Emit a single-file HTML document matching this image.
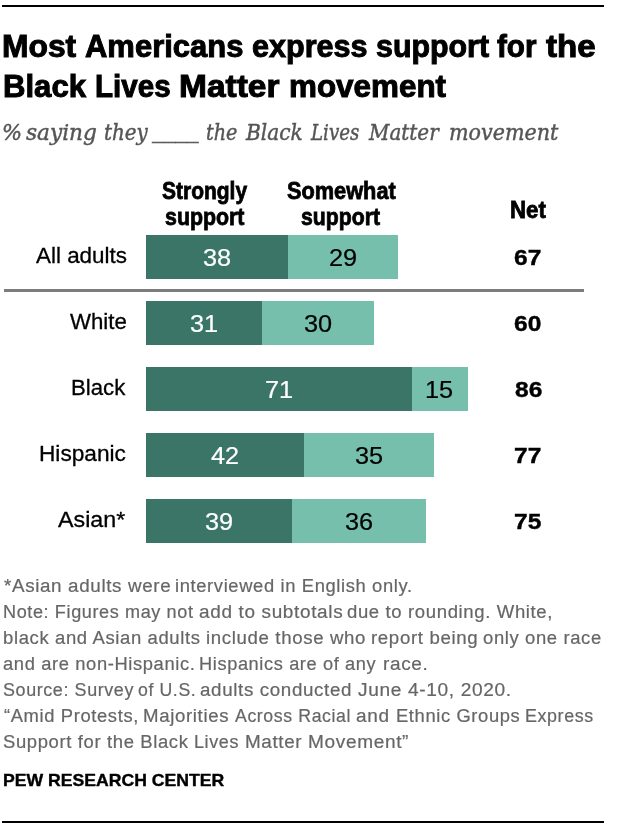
<!DOCTYPE html>
<html><head><meta charset="utf-8">
<style>
html,body{margin:0;padding:0;background:#fff;}
body{width:618px;height:830px;position:relative;overflow:hidden;font-family:"Liberation Sans",sans-serif;}
.x{position:absolute;white-space:nowrap;line-height:1;transform-origin:0 0;}
.r{position:absolute;}
</style></head><body>
<div class="r" style="left:2px;top:5px;width:602px;height:2px;background:#000"></div>
<div class="r" style="left:3.6px;top:288.8px;width:580.4px;height:2.8px;background:#7c7c7c"></div>
<div class="r" style="left:146px;top:235px;width:141.8px;height:43.7px;background:#3a7568"></div><div class="r" style="left:287.8px;top:235px;width:110.1px;height:43.7px;background:#75bfac"></div>
<div class="r" style="left:146px;top:301.2px;width:115.9px;height:43.7px;background:#3a7568"></div><div class="r" style="left:261.9px;top:301.2px;width:112.2px;height:43.7px;background:#75bfac"></div>
<div class="r" style="left:146px;top:367px;width:265.6px;height:43.7px;background:#3a7568"></div><div class="r" style="left:411.6px;top:367px;width:56.6px;height:43.7px;background:#75bfac"></div>
<div class="r" style="left:146px;top:433px;width:158.0px;height:43.7px;background:#3a7568"></div><div class="r" style="left:304.0px;top:433px;width:130.0px;height:43.7px;background:#75bfac"></div>
<div class="r" style="left:146px;top:499px;width:145.8px;height:43.7px;background:#3a7568"></div><div class="r" style="left:291.8px;top:499px;width:134.2px;height:43.7px;background:#75bfac"></div>
<div class="x" id="ta0" style="left:2.01px;top:29.50px;font-size:32px;color:#000;font-weight:bold;-webkit-text-stroke:1px #000;transform:scaleX(0.9932);">Most</div>
<div class="x" id="ta1" style="left:84.80px;top:29.50px;font-size:32px;color:#000;font-weight:bold;-webkit-text-stroke:1px #000;transform:scaleX(0.9681);">Americans</div>
<div class="x" id="ta2" style="left:251.84px;top:29.50px;font-size:32px;color:#000;font-weight:bold;-webkit-text-stroke:1px #000;transform:scaleX(0.9555);">express</div>
<div class="x" id="ta3" style="left:375.65px;top:29.50px;font-size:32px;color:#000;font-weight:bold;-webkit-text-stroke:1px #000;transform:scaleX(0.9492);">support</div>
<div class="x" id="ta4" style="left:496.90px;top:29.50px;font-size:32px;color:#000;font-weight:bold;-webkit-text-stroke:1px #000;transform:scaleX(0.9256);">for</div>
<div class="x" id="ta5" style="left:545.70px;top:29.50px;font-size:32px;color:#000;font-weight:bold;-webkit-text-stroke:1px #000;transform:scaleX(1.0362);">the</div>
<div class="x" id="tb0" style="left:3.25px;top:69.50px;font-size:32px;color:#000;font-weight:bold;-webkit-text-stroke:1px #000;transform:scaleX(0.9726);">Black</div>
<div class="x" id="tb1" style="left:95.25px;top:69.50px;font-size:32px;color:#000;font-weight:bold;-webkit-text-stroke:1px #000;transform:scaleX(0.9241);">Lives</div>
<div class="x" id="tb2" style="left:178.81px;top:69.50px;font-size:32px;color:#000;font-weight:bold;-webkit-text-stroke:1px #000;transform:scaleX(1.0468);">Matter</div>
<div class="x" id="tb3" style="left:289.04px;top:69.50px;font-size:32px;color:#000;font-weight:bold;-webkit-text-stroke:1px #000;transform:scaleX(0.9810);">movement</div>
<div class="x" id="s0" style="left:1.67px;top:120.80px;font-size:23px;color:#555;font-family:'DejaVu Serif','Liberation Serif',serif;font-style:italic;-webkit-text-stroke:0.45px #555;transform:scaleX(0.9167);">%</div>
<div class="x" id="s1" style="left:26.20px;top:120.80px;font-size:23px;color:#555;font-family:'DejaVu Serif','Liberation Serif',serif;font-style:italic;-webkit-text-stroke:0.45px #555;transform:scaleX(0.9400);">saying</div>
<div class="x" id="s2" style="left:104.03px;top:120.80px;font-size:23px;color:#555;font-family:'DejaVu Serif','Liberation Serif',serif;font-style:italic;-webkit-text-stroke:0.45px #555;transform:scaleX(0.8660);">they</div>
<div class="x" id="s3" style="left:152.40px;top:119.40px;font-size:23px;color:#555;font-family:'DejaVu Serif','Liberation Serif',serif;font-style:italic;-webkit-text-stroke:0.45px #555;transform:scaleX(1.0130);">____</div>
<div class="x" id="s4" style="left:205.96px;top:120.80px;font-size:23px;color:#555;font-family:'DejaVu Serif','Liberation Serif',serif;font-style:italic;-webkit-text-stroke:0.45px #555;transform:scaleX(0.8361);">the</div>
<div class="x" id="s5" style="left:245.88px;top:120.80px;font-size:23px;color:#555;font-family:'DejaVu Serif','Liberation Serif',serif;font-style:italic;-webkit-text-stroke:0.45px #555;transform:scaleX(0.8769);">Black</div>
<div class="x" id="s6" style="left:311.19px;top:120.80px;font-size:23px;color:#555;font-family:'DejaVu Serif','Liberation Serif',serif;font-style:italic;-webkit-text-stroke:0.45px #555;transform:scaleX(0.7919);">Lives</div>
<div class="x" id="s7" style="left:368.67px;top:120.80px;font-size:23px;color:#555;font-family:'DejaVu Serif','Liberation Serif',serif;font-style:italic;-webkit-text-stroke:0.45px #555;transform:scaleX(0.8675);">Matter</div>
<div class="x" id="s8" style="left:449.20px;top:120.80px;font-size:23px;color:#555;font-family:'DejaVu Serif','Liberation Serif',serif;font-style:italic;-webkit-text-stroke:0.45px #555;transform:scaleX(0.8983);">movement</div>
<div class="x" id="h1a" style="left:162.30px;top:178.80px;font-size:24px;color:#000;font-weight:bold;-webkit-text-stroke:0.8px #000;transform:scaleX(0.8742);">Strongly</div>
<div class="x" id="h1b" style="left:165.01px;top:204.70px;font-size:24px;color:#000;font-weight:bold;-webkit-text-stroke:0.8px #000;transform:scaleX(0.8898);">support</div>
<div class="x" id="h2a" style="left:286.60px;top:178.80px;font-size:24px;color:#000;font-weight:bold;-webkit-text-stroke:0.8px #000;transform:scaleX(0.9058);">Somewhat</div>
<div class="x" id="h2b" style="left:301.41px;top:204.70px;font-size:24px;color:#000;font-weight:bold;-webkit-text-stroke:0.8px #000;transform:scaleX(0.8852);">support</div>
<div class="x" id="h3" style="left:509.77px;top:197.80px;font-size:24px;color:#000;font-weight:bold;-webkit-text-stroke:0.8px #000;transform:scaleX(0.9263);">Net</div>
<div class="x" id="l1" style="left:35.70px;top:245.20px;font-size:22px;color:#000;-webkit-text-stroke:0.3px #000;transform:scaleX(1.0191);">All adults</div>
<div class="x" id="v1a" style="left:202.60px;top:246.80px;font-size:23px;color:#fff;-webkit-text-stroke:0.2px #fff;transform:scaleX(1.1000);">38</div>
<div class="x" id="v1b" style="left:328.55px;top:246.80px;font-size:23px;color:#000;-webkit-text-stroke:0.2px #000;transform:scaleX(1.1000);">29</div>
<div class="x" id="n1" style="left:514.15px;top:247.40px;font-size:22.3px;color:#000;font-weight:bold;-webkit-text-stroke:0.4px #000;transform:scaleX(1.1000);">67</div>
<div class="x" id="l2" style="left:70.00px;top:311.20px;font-size:22px;color:#000;-webkit-text-stroke:0.3px #000;transform:scaleX(1.0109);">White</div>
<div class="x" id="v2a" style="left:189.65px;top:312.80px;font-size:23px;color:#fff;-webkit-text-stroke:0.2px #fff;transform:scaleX(1.1000);">31</div>
<div class="x" id="v2b" style="left:303.70px;top:312.80px;font-size:23px;color:#000;-webkit-text-stroke:0.2px #000;transform:scaleX(1.1000);">30</div>
<div class="x" id="n2" style="left:514.15px;top:313.40px;font-size:22.3px;color:#000;font-weight:bold;-webkit-text-stroke:0.4px #000;transform:scaleX(1.1000);">60</div>
<div class="x" id="l3" style="left:70.58px;top:377.20px;font-size:22px;color:#000;-webkit-text-stroke:0.3px #000;transform:scaleX(1.0077);">Black</div>
<div class="x" id="v3a" style="left:264.50px;top:378.80px;font-size:23px;color:#fff;-webkit-text-stroke:0.2px #fff;transform:scaleX(1.1000);">71</div>
<div class="x" id="v3b" style="left:425.05px;top:378.80px;font-size:23px;color:#000;-webkit-text-stroke:0.2px #000;transform:scaleX(1.1000);">15</div>
<div class="x" id="n3" style="left:514.70px;top:379.40px;font-size:22.3px;color:#000;font-weight:bold;-webkit-text-stroke:0.4px #000;transform:scaleX(1.1000);">86</div>
<div class="x" id="l4" style="left:39.44px;top:443.20px;font-size:22px;color:#000;-webkit-text-stroke:0.3px #000;transform:scaleX(1.0305);">Hispanic</div>
<div class="x" id="v4a" style="left:211.25px;top:444.80px;font-size:23px;color:#fff;-webkit-text-stroke:0.2px #fff;transform:scaleX(1.1000);">42</div>
<div class="x" id="v4b" style="left:354.70px;top:444.80px;font-size:23px;color:#000;-webkit-text-stroke:0.2px #000;transform:scaleX(1.1000);">35</div>
<div class="x" id="n4" style="left:514.15px;top:445.40px;font-size:22.3px;color:#000;font-weight:bold;-webkit-text-stroke:0.4px #000;transform:scaleX(1.1000);">77</div>
<div class="x" id="l5" style="left:58.40px;top:509.20px;font-size:22px;color:#000;-webkit-text-stroke:0.3px #000;transform:scaleX(1.0571);">Asian*</div>
<div class="x" id="v5a" style="left:204.60px;top:510.80px;font-size:23px;color:#fff;-webkit-text-stroke:0.2px #fff;transform:scaleX(1.1000);">39</div>
<div class="x" id="v5b" style="left:344.60px;top:510.80px;font-size:23px;color:#000;-webkit-text-stroke:0.2px #000;transform:scaleX(1.1000);">36</div>
<div class="x" id="n5" style="left:513.60px;top:511.40px;font-size:22.3px;color:#000;font-weight:bold;-webkit-text-stroke:0.4px #000;transform:scaleX(1.1000);">75</div>
<div class="x" id="f1_0" style="left:4.00px;top:577.80px;font-size:17.6px;color:#666;letter-spacing:0.6px;-webkit-text-stroke:0.2px #666;transform:scaleX(1.0690);">*Asian adults were</div>
<div class="x" id="f1_1" style="left:175.16px;top:577.80px;font-size:17.6px;color:#666;letter-spacing:0.6px;-webkit-text-stroke:0.2px #666;transform:scaleX(1.0436);">interviewed in English only.</div>
<div class="x" id="f2_0" style="left:2.57px;top:603.90px;font-size:17.6px;color:#666;letter-spacing:0.6px;-webkit-text-stroke:0.2px #666;transform:scaleX(1.0261);">Note: Figures may not</div>
<div class="x" id="f2_1" style="left:198.82px;top:603.90px;font-size:17.6px;color:#666;letter-spacing:0.6px;-webkit-text-stroke:0.2px #666;transform:scaleX(1.0780);">add to subtotals</div>
<div class="x" id="f2_2" style="left:347.25px;top:603.90px;font-size:17.6px;color:#666;letter-spacing:0.6px;-webkit-text-stroke:0.2px #666;transform:scaleX(1.0528);">due to rounding. White,</div>
<div class="x" id="f3_0" style="left:2.55px;top:629.90px;font-size:17.6px;color:#666;letter-spacing:0.6px;-webkit-text-stroke:0.2px #666;transform:scaleX(1.0495);">black and Asian adults</div>
<div class="x" id="f3_1" style="left:205.84px;top:629.90px;font-size:17.6px;color:#666;letter-spacing:0.6px;-webkit-text-stroke:0.2px #666;transform:scaleX(1.0597);">include those who</div>
<div class="x" id="f3_2" style="left:370.64px;top:629.90px;font-size:17.6px;color:#666;letter-spacing:0.6px;-webkit-text-stroke:0.2px #666;transform:scaleX(1.0606);">report being</div>
<div class="x" id="f3_3" style="left:482.95px;top:629.90px;font-size:17.6px;color:#666;letter-spacing:0.6px;-webkit-text-stroke:0.2px #666;transform:scaleX(1.0477);">only one race</div>
<div class="x" id="f4_0" style="left:2.56px;top:656.00px;font-size:17.6px;color:#666;letter-spacing:0.6px;-webkit-text-stroke:0.2px #666;transform:scaleX(1.0418);">and are non-Hispanic.</div>
<div class="x" id="f4_1" style="left:199.47px;top:656.00px;font-size:17.6px;color:#666;letter-spacing:0.6px;-webkit-text-stroke:0.2px #666;transform:scaleX(1.0341);">Hispanics are of any</div>
<div class="x" id="f4_2" style="left:382.82px;top:656.00px;font-size:17.6px;color:#666;letter-spacing:0.6px;-webkit-text-stroke:0.2px #666;transform:scaleX(1.0795);">race.</div>
<div class="x" id="f5_0" style="left:2.58px;top:682.00px;font-size:17.6px;color:#666;letter-spacing:0.6px;-webkit-text-stroke:0.2px #666;transform:scaleX(1.0181);">Source: Survey</div>
<div class="x" id="f5_1" style="left:138.09px;top:682.00px;font-size:17.6px;color:#666;letter-spacing:0.6px;-webkit-text-stroke:0.2px #666;transform:scaleX(1.0055);">of U.S.</div>
<div class="x" id="f5_2" style="left:200.33px;top:682.00px;font-size:17.6px;color:#666;letter-spacing:0.6px;-webkit-text-stroke:0.2px #666;transform:scaleX(1.0664);">adults conducted</div>
<div class="x" id="f5_3" style="left:358.00px;top:682.00px;font-size:17.6px;color:#666;letter-spacing:0.6px;-webkit-text-stroke:0.2px #666;transform:scaleX(1.0857);">June 4-10, 2020.</div>
<div class="x" id="f6_0" style="left:3.60px;top:708.10px;font-size:17.6px;color:#666;letter-spacing:0.6px;-webkit-text-stroke:0.2px #666;transform:scaleX(1.0441);">“Amid Protests,</div>
<div class="x" id="f6_1" style="left:143.24px;top:708.10px;font-size:17.6px;color:#666;letter-spacing:0.6px;-webkit-text-stroke:0.2px #666;transform:scaleX(1.0595);">Majorities</div>
<div class="x" id="f6_2" style="left:235.20px;top:708.10px;font-size:17.6px;color:#666;letter-spacing:0.6px;-webkit-text-stroke:0.2px #666;transform:scaleX(1.0061);">Across Racial</div>
<div class="x" id="f6_3" style="left:356.42px;top:708.10px;font-size:17.6px;color:#666;letter-spacing:0.6px;-webkit-text-stroke:0.2px #666;transform:scaleX(1.0793);">and</div>
<div class="x" id="f6_4" style="left:396.26px;top:708.10px;font-size:17.6px;color:#666;letter-spacing:0.6px;-webkit-text-stroke:0.2px #666;transform:scaleX(1.0427);">Ethnic Groups</div>
<div class="x" id="f6_5" style="left:524.98px;top:708.10px;font-size:17.6px;color:#666;letter-spacing:0.6px;-webkit-text-stroke:0.2px #666;transform:scaleX(1.0152);">Express</div>
<div class="x" id="f7_0" style="left:2.55px;top:734.10px;font-size:17.6px;color:#666;letter-spacing:0.6px;-webkit-text-stroke:0.2px #666;transform:scaleX(1.0491);">Support for the Black</div>
<div class="x" id="f7_1" style="left:193.78px;top:734.10px;font-size:17.6px;color:#666;letter-spacing:0.6px;-webkit-text-stroke:0.2px #666;transform:scaleX(1.0214);">Lives</div>
<div class="x" id="f7_2" style="left:244.73px;top:734.10px;font-size:17.6px;color:#666;letter-spacing:0.6px;-webkit-text-stroke:0.2px #666;transform:scaleX(1.0712);">Matter</div>
<div class="x" id="f7_3" style="left:308.22px;top:734.10px;font-size:17.6px;color:#666;letter-spacing:0.6px;-webkit-text-stroke:0.2px #666;transform:scaleX(1.0824);">Movement”</div>
<div class="x" id="pew" style="left:3.26px;top:772.40px;font-size:17px;color:#000;font-weight:bold;-webkit-text-stroke:0.4px #000;transform:scaleX(1.0363);">PEW RESEARCH CENTER</div>
<div class="r" style="left:2px;top:821px;width:602px;height:2px;background:#000"></div>
</body></html>
